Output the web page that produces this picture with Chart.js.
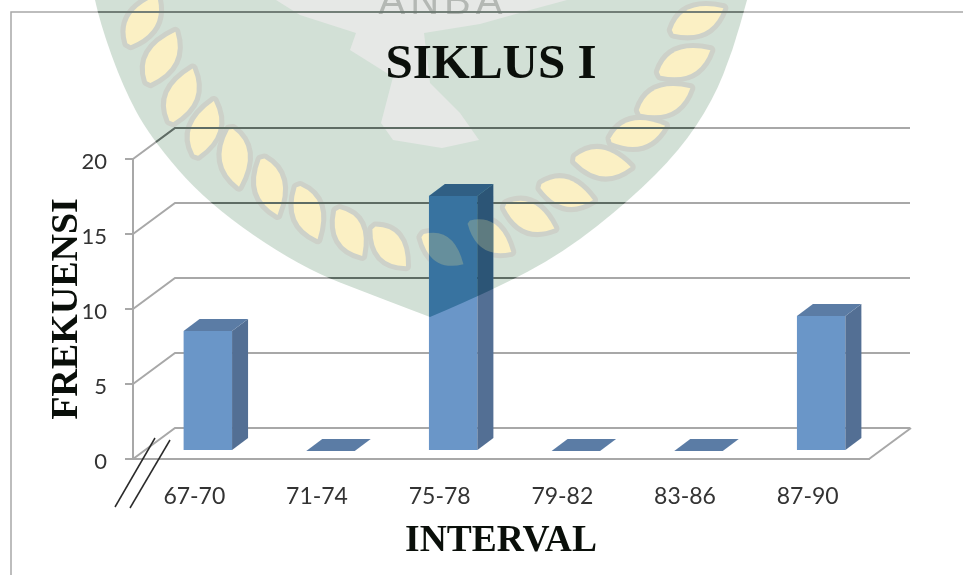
<!DOCTYPE html>
<html>
<head>
<meta charset="utf-8">
<style>html,body{margin:0;padding:0;background:#fff;overflow:hidden}canvas{display:block}</style>
<script src="https://cdn.jsdelivr.net/npm/chart.js@4"></script>
</head>
<body>
<canvas id="c" width="963" height="575"></canvas>
<script>
const categories = ['67-70','71-74','75-78','79-82','83-86','87-90'];
const frekuensi = [8,0,17,0,0,9];
const titleText = 'SIKLUS I';
const yTitle = 'FREKUENSI';
const xTitle = 'INTERVAL';

// watermark artwork (background decoration, not data)
const shieldPath = [[95,0],[100,23],[123,87],[150,137],[207,203],[300,267],[380,298],[430,317],[493,290],[563,253],[630,200],[680,150],[713,100],[733,50],[747,0]];
const SHIELD_TIP = 7;
const emblemPath = [[356,33],[350,50],[393,77],[381,123],[393,140],[442,148],[479,140],[460,113],[430,83],[424,33],[480,24],[530,10],[567,0],[276,0],[300,15],[356,33]];
const leaves = [[143,20,-60,56,27],[162,57,-62,57,27],[182,95,-68,57,27],[205,128,-72,57,27],[235,158,82,58,27],[270,187,75,58,27],[308,213,70,56,27],[350,233,62,52,27],[390,247,50,50,27],[443,250,35,50,27],[490,237,35,52,27],[530,217,25,54,27],[567,193,15,54,27],[603,163,8,56,27],[638,133,-15,56,27],[665,100,-25,56,27],[685,62,-25,56,27],[698,20,-25,56,27]];

const LINE='#a8a8a8', LINE_DARK='#5e6c64';
const DX=42, DY=31, BX=16, BY=12, SHIFT_X=13.5, SHIFT_Y=8;

function poly(ctx,pts){ctx.beginPath();pts.forEach((p,i)=>i?ctx.lineTo(p[0],p[1]):ctx.moveTo(p[0],p[1]));ctx.closePath();}
function smoothShield(ctx){
  ctx.beginPath();ctx.moveTo(shieldPath[0][0],shieldPath[0][1]);
  for(let i=1;i<shieldPath.length-1;i++){
    if(i===SHIELD_TIP){ctx.lineTo(shieldPath[i][0],shieldPath[i][1]);continue;}
    const m=[(shieldPath[i][0]+shieldPath[i+1][0])/2,(shieldPath[i][1]+shieldPath[i+1][1])/2];
    ctx.quadraticCurveTo(shieldPath[i][0],shieldPath[i][1],m[0],m[1]);
  }
  const l=shieldPath[shieldPath.length-1];ctx.lineTo(l[0],l[1]);ctx.closePath();
}
function leaf(ctx,l){
  ctx.save();ctx.translate(l[0],l[1]);ctx.rotate(l[2]*Math.PI/180);
  const a=l[3]/2,b=l[4];
  ctx.beginPath();ctx.moveTo(-a,-2);ctx.quadraticCurveTo(-a*0.2,-b*0.95,a,0);ctx.quadraticCurveTo(a*0.1,b*0.95,-a,2);ctx.closePath();
  ctx.restore();
}
function frameLines(ctx,chart,color){
  const y=chart.scales.y,a=chart.chartArea;
  ctx.strokeStyle=color;ctx.lineWidth=2;
  [0,5,10,15,20].forEach(v=>{
    const p=y.getPixelForValue(v);
    ctx.beginPath();ctx.moveTo(a.left,p);ctx.lineTo(a.left+DX,p-DY);ctx.lineTo(a.right+DX-1,p-DY);ctx.stroke();
  });
  const b=y.getPixelForValue(0);
  ctx.beginPath();ctx.moveTo(a.right,b);ctx.lineTo(a.right+DX,b-DY);ctx.stroke();
  ctx.lineWidth=1.5;
  ctx.beginPath();ctx.moveTo(11,575);ctx.lineTo(11,12);ctx.lineTo(963,12);ctx.stroke();
}
const scene={
  id:'scene',
  beforeDraw(chart){
    const ctx=chart.ctx;
    ctx.save();
    ctx.fillStyle='#fff';ctx.fillRect(0,0,963,575);
    smoothShield(ctx);ctx.fillStyle='#d2e0d6';ctx.fill();
    ctx.save();smoothShield(ctx);ctx.clip();
    leaves.forEach(l=>{leaf(ctx,l);ctx.strokeStyle='#cdd1c9';ctx.lineWidth=10;ctx.lineJoin='round';ctx.stroke();});
    leaves.forEach(l=>{leaf(ctx,l);ctx.fillStyle='#fbf0c4';ctx.fill();});
    ctx.restore();
    poly(ctx,emblemPath);ctx.fillStyle='#e6e8e6';ctx.fill();
    ctx.fillStyle='#b4b8b4';ctx.font='40px "Liberation Sans"';ctx.textAlign='center';ctx.textBaseline='alphabetic';
    ctx.letterSpacing='5px';
    ctx.fillText('ANBA',443,14);
    ctx.letterSpacing='0px';
    ctx.restore();
  },
  beforeDatasetsDraw(chart){
    const ctx=chart.ctx;
    ctx.save();
    frameLines(ctx,chart,LINE);
    smoothShield(ctx);ctx.clip();
    frameLines(ctx,chart,LINE_DARK);
    ctx.restore();
  },
  beforeDatasetDraw(chart){
    chart.ctx.save();chart.ctx.translate(SHIFT_X,-SHIFT_Y);
  },
  afterDatasetDraw(chart,args){
    const ctx=chart.ctx;
    ctx.restore();
    ctx.save();
    ctx.beginPath();ctx.rect(0,0,963,575);ctx.clip();
    args.meta.data.forEach(el=>{
      const l=el.x-el.width/2+SHIFT_X,r=el.x+el.width/2+SHIFT_X,t=el.y-SHIFT_Y,b=el.base-SHIFT_Y;
      const top=[[l,t],[r,t],[r+BX,t-BY],[l+BX,t-BY]];
      const side=[[r,t],[r+BX,t-BY],[r+BX,b-BY],[r,b]];
      const whole=[[l,b],[l,t],[l+BX,t-BY],[r+BX,t-BY],[r+BX,b-BY],[r,b]];
      if(t<b){poly(ctx,side);ctx.fillStyle='#536f94';ctx.fill();}
      poly(ctx,top);ctx.fillStyle='#5b7ca5';ctx.fill();
      if(t<b){
        ctx.save();
        poly(ctx,whole);ctx.clip();
        smoothShield(ctx);ctx.clip();
        ctx.globalCompositeOperation='multiply';
        ctx.fillStyle='#87c4cc';ctx.fillRect(l,t-BY,r+BX-l,b-t+BY);
        ctx.globalCompositeOperation='source-over';
        leaves.forEach(lf=>{leaf(ctx,lf);ctx.fillStyle='rgba(190,195,150,0.35)';ctx.fill();});
        ctx.restore();
      }
    });
    ctx.restore();
  },
  afterDraw(chart){
    const ctx=chart.ctx;
    ctx.save();
    ctx.strokeStyle='#2a2a2a';ctx.lineWidth=1.5;
    [[155,438,115,507],[170,440,130,508]].forEach(s=>{ctx.beginPath();ctx.moveTo(s[0],s[1]);ctx.lineTo(s[2],s[3]);ctx.stroke();});
    ctx.restore();
  }
};

new Chart(document.getElementById('c'),{
  type:'bar',
  plugins:[scene],
  data:{labels:categories,datasets:[{data:frekuensi,backgroundColor:'#6a96c8',borderWidth:0,barPercentage:0.395,categoryPercentage:1}]},
  options:{
    responsive:false,animation:false,
    layout:{padding:{left:19,right:0,top:0,bottom:0}},
    plugins:{
      legend:{display:false},tooltip:{enabled:false},
      title:{display:true,text:titleText,color:'#0a0f0a',font:{family:'"Liberation Serif"',size:49,weight:'bold'},padding:{top:36,bottom:64.2}}
    },
    scales:{
      x:{
        afterFit:s=>{s.height=116;},
        grid:{display:false},
        border:{color:LINE,width:2},
        ticks:{color:'#333333',font:{family:'Lato',size:23},padding:16,maxRotation:0},
        title:{display:true,text:xTitle,color:'#0a0f0a',font:{family:'"Liberation Serif"',size:37.5,weight:'bold'},padding:{top:0,bottom:11}}
      },
      y:{
        min:0,max:20,
        afterFit:s=>{s.width=114;},
        afterUpdate:s=>{
          if(s._shifted)return;s._shifted=true;
          const d=s.drawLabels;
          s.drawLabels=function(a){s.ctx.save();s.ctx.translate(0,3);d.call(s,a);s.ctx.restore();};
        },
        grid:{drawOnChartArea:false,color:LINE,tickLength:8,lineWidth:2},
        border:{color:LINE,width:2},
        ticks:{stepSize:5,color:'#333333',font:{family:'Lato',size:22},padding:18},
        title:{display:true,text:yTitle,color:'#0a0f0a',font:{family:'"Liberation Serif"',size:38,weight:'bold'},padding:{top:25,bottom:0}}
      },
      y2:{
        type:'linear',position:'right',display:true,
        afterFit:s=>{s.width=94;},
        grid:{display:false},border:{display:false},ticks:{display:false}
      }
    }
  }
});
</script>
</body>
</html>
